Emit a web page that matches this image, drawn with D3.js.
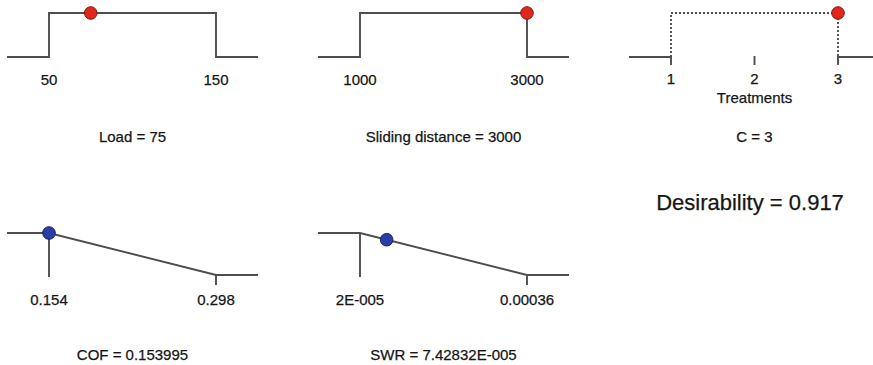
<!DOCTYPE html>
<html>
<head>
<meta charset="utf-8">
<script src="https://cdn.jsdelivr.net/npm/d3@7"></script>
<style>
  html, body { margin: 0; padding: 0; background: #fff; }
  text { font-family: "Liberation Sans", Arial, sans-serif; fill: #161616; stroke: #161616; stroke-width: 0.25px; }
</style>
</head>
<body>
<div id="chart"></div>
<script>
//
// Desirability / optimisation plot (factor settings + responses)
//
var factorNames = ["Load", "Sliding distance"];
var factorLows = [50, 1000];
var factorHighs = [150, 3000];
var factorSettings = [75, 3000];
var factorTickLabels = [["50", "150"], ["1000", "3000"]];

var treatmentName = "C";
var treatmentLevels = [1, 2, 3];
var treatmentSetting = 3;

var responseNames = ["COF", "SWR"];
var responseLows = [0.154, 0.00002];
var responseHighs = [0.298, 0.00036];
var responsePredicted = [0.153995, 0.0000742832];
var responseTickLabels = [["0.154", "0.298"], ["2E-005", "0.00036"]];
var responseValueLabels = ["0.153995", "7.42832E-005"];

var desirability = 0.917;

var width = 873, height = 365;
var panelStep = 311, panelLeft = 7;
var lineColour = "#4e4e4e";
var lineWidth = 1.9;

var svg = d3.select("#chart").append("svg")
  .attr("width", width)
  .attr("height", height);

var line = d3.line();

// x scale for one panel: low / high sit 42px and 209px into the 250px panel
function panelScale(i, lo, hi) {
  var x0 = panelLeft + i * panelStep;
  return d3.scaleLinear().domain([lo, hi]).range([x0 + 42, x0 + 209]);
}

function dot(g, x, y, fill, stroke) {
  g.append("circle")
    .attr("cx", x).attr("cy", y).attr("r", 6.3)
    .attr("fill", fill).attr("stroke", stroke).attr("stroke-width", 1);
}

// ---- top row: factors (target range, d = 1 inside) ----
factorNames.forEach(function(name, i) {
  var x = panelScale(i, factorLows[i], factorHighs[i]);
  var y = d3.scaleLinear().domain([0, 1]).range([57, 13]);
  var ext = (factorHighs[i] - factorLows[i]) * 42 / 167;
  var lo = factorLows[i], hi = factorHighs[i];
  var pts = [[lo - ext, 0], [lo, 0], [lo, 1], [hi, 1], [hi, 0], [hi + ext, 0]];
  var g = svg.append("g");
  g.append("path")
    .attr("d", line(pts.map(function(p) { return [x(p[0]), y(p[1])]; })))
    .attr("fill", "none").attr("stroke", lineColour).attr("stroke-width", lineWidth);
  [lo, hi].forEach(function(v, k) {
    g.append("text").attr("x", x(v)).attr("y", 85)
      .attr("text-anchor", "middle").style("font-size", "15px")
      .text(factorTickLabels[i][k]);
  });
  var s = factorSettings[i];
  var d = (s >= lo && s <= hi) ? 1 : 0;
  dot(g, x(s), y(d), "#e3261b", "#7a1b12");
  g.append("text").attr("x", x((lo + hi) / 2)).attr("y", 142)
    .attr("text-anchor", "middle").style("font-size", "15px")
    .text(name + " = " + s);
});

// ---- top row: categorical treatment ----
(function() {
  var lvls = treatmentLevels;
  var x = panelScale(2, lvls[0], lvls[lvls.length - 1]);
  var y = d3.scaleLinear().domain([0, 1]).range([57, 13]);
  var ext = (lvls[lvls.length - 1] - lvls[0]) * 42 / 167;
  var g = svg.append("g");
  g.append("path")
    .attr("d", line([[x(lvls[0] - ext), y(0)], [x(lvls[0]), y(0)]]))
    .attr("fill", "none").attr("stroke", lineColour).attr("stroke-width", lineWidth);
  g.append("path")
    .attr("d", line([[x(lvls[2]), y(0)], [x(lvls[2] + ext), y(0)]]))
    .attr("fill", "none").attr("stroke", lineColour).attr("stroke-width", lineWidth);
  g.append("path")
    .attr("d", line([[x(lvls[0]), y(0)], [x(lvls[0]), y(1)], [x(lvls[2]), y(1)], [x(lvls[2]), y(0)]]))
    .attr("fill", "none").attr("stroke", lineColour).attr("stroke-width", lineWidth)
    .attr("stroke-dasharray", "2,2");
  lvls.forEach(function(v) {
    g.append("line")
      .attr("x1", x(v)).attr("x2", x(v)).attr("y1", y(0) - 1).attr("y2", y(0) + 8)
      .attr("stroke", lineColour).attr("stroke-width", lineWidth);
    g.append("text").attr("x", x(v)).attr("y", 84)
      .attr("text-anchor", "middle").style("font-size", "15px").text(v);
  });
  g.append("text").attr("x", x(lvls[1])).attr("y", 103)
    .attr("text-anchor", "middle").style("font-size", "15px").text("Treatments");
  dot(g, x(treatmentSetting), y(1), "#e3261b", "#7a1b12");
  g.append("text").attr("x", x(lvls[1])).attr("y", 142)
    .attr("text-anchor", "middle").style("font-size", "15px")
    .text(treatmentName + " = " + treatmentSetting);
})();

// ---- bottom row: responses (minimise, d falls from 1 to 0) ----
responseNames.forEach(function(name, i) {
  var x = panelScale(i, responseLows[i], responseHighs[i]);
  var y = d3.scaleLinear().domain([0, 1]).range([275, 233]);
  var lo = responseLows[i], hi = responseHighs[i];
  var ext = (hi - lo) * 42 / 167;
  var dfun = function(v) { return v <= lo ? 1 : v >= hi ? 0 : (hi - v) / (hi - lo); };
  var pts = [[lo - ext, 1], [lo, 1], [hi, 0], [hi + ext, 0]];
  var g = svg.append("g");
  g.append("path")
    .attr("d", line(pts.map(function(p) { return [x(p[0]), y(p[1])]; })))
    .attr("fill", "none").attr("stroke", lineColour).attr("stroke-width", lineWidth);
  g.append("line")
    .attr("x1", x(lo)).attr("x2", x(lo)).attr("y1", y(1)).attr("y2", y(0) + 2)
    .attr("stroke", lineColour).attr("stroke-width", lineWidth);
  g.append("line")
    .attr("x1", x(hi)).attr("x2", x(hi)).attr("y1", y(0)).attr("y2", y(0) + 10)
    .attr("stroke", lineColour).attr("stroke-width", lineWidth);
  [lo, hi].forEach(function(v, k) {
    g.append("text").attr("x", x(v)).attr("y", 305)
      .attr("text-anchor", "middle").style("font-size", "15px")
      .text(responseTickLabels[i][k]);
  });
  var p = responsePredicted[i];
  dot(g, x(p), y(dfun(p)), "#2a3ea6", "#18236a");
  g.append("text").attr("x", x((lo + hi) / 2)).attr("y", 360)
    .attr("text-anchor", "middle").style("font-size", "15px")
    .text(name + " = " + responseValueLabels[i]);
});

// ---- overall desirability ----
svg.append("text")
  .attr("x", 750).attr("y", 210)
  .attr("text-anchor", "middle").style("font-size", "22px")
  .text("Desirability = " + desirability);
</script>
</body>
</html>
